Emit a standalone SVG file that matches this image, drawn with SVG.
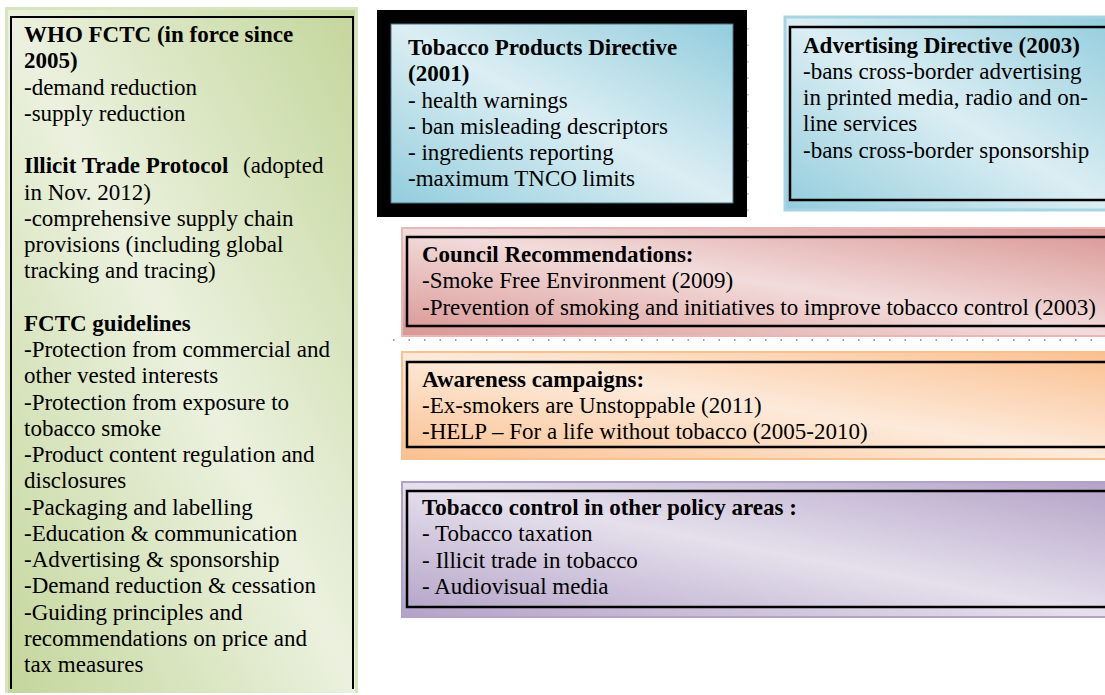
<svg xmlns="http://www.w3.org/2000/svg" width="1105" height="695" viewBox="0 0 1105 695">
<defs>
<linearGradient id="gGreen" x1="1" y1="0" x2="0" y2="1"><stop offset="0" stop-color="#c3d69b"/><stop offset="0.5" stop-color="#ebf1de"/><stop offset="1" stop-color="#c3d69b"/></linearGradient>
<linearGradient id="gBlue" x1="1" y1="0" x2="0" y2="1"><stop offset="0" stop-color="#93cddd"/><stop offset="0.5" stop-color="#dbeef3"/><stop offset="1" stop-color="#93cddd"/></linearGradient>
<linearGradient id="gPink" x1="1" y1="0" x2="0" y2="1"><stop offset="0" stop-color="#d99694"/><stop offset="0.5" stop-color="#f2dcdb"/><stop offset="1" stop-color="#d99694"/></linearGradient>
<linearGradient id="gOrange" x1="1" y1="0" x2="0" y2="1"><stop offset="0" stop-color="#fac090"/><stop offset="0.5" stop-color="#fdeada"/><stop offset="1" stop-color="#fac090"/></linearGradient>
<linearGradient id="gPurple" x1="1" y1="0" x2="0" y2="1"><stop offset="0" stop-color="#b3a2c7"/><stop offset="0.5" stop-color="#e5e0ec"/><stop offset="1" stop-color="#b3a2c7"/></linearGradient>
<style>
text{font-family:"Liberation Serif","Times New Roman",serif;font-size:23px;fill:#000}
.b{font-weight:bold}
.inner{fill:none;stroke:#000;stroke-width:2.5}
</style>
</defs>
<rect width="1105" height="695" fill="#fff"/>
<g id="decor">
<line x1="393" y1="340" x2="1105" y2="340" stroke="#9b6b8a" stroke-width="1.5" stroke-dasharray="1.5 14"/>
<line x1="748" y1="28" x2="748" y2="216" stroke="#999" stroke-width="1" stroke-dasharray="1.5 15"/>
</g>
<g id="connectors"></g>
<g id="who-fctc">
<rect x="5" y="7" width="353" height="686" fill="url(#gGreen)"/>
<path d="M6.5,693 V8.5 H356.5 V693" fill="none" stroke="#d7e4bd" stroke-width="3"/>
<path d="M11,689 V17 H353 V689" fill="none" stroke="#000" stroke-width="2"/>
<text x="24" y="42" class="b">WHO FCTC (in force since</text>
<text x="24" y="68.25" class="b">2005)</text>
<text x="24" y="94.5">-demand reduction</text>
<text x="24" y="120.75">-supply reduction</text>
<text x="24" y="173.25"><tspan class="b">Illicit Trade Protocol</tspan><tspan x="243">(adopted</tspan></text>
<text x="24" y="199.5">in Nov. 2012)</text>
<text x="24" y="225.75">-comprehensive supply chain</text>
<text x="24" y="252">provisions (including global</text>
<text x="24" y="278.25">tracking and tracing)</text>
<text x="24" y="330.75" class="b">FCTC guidelines</text>
<text x="24" y="357">-Protection from commercial and</text>
<text x="24" y="383.25">other vested interests</text>
<text x="24" y="409.5">-Protection from exposure to</text>
<text x="24" y="435.75">tobacco smoke</text>
<text x="24" y="462">-Product content regulation and</text>
<text x="24" y="488.25">disclosures</text>
<text x="24" y="514.5">-Packaging and labelling</text>
<text x="24" y="540.75">-Education &amp; communication</text>
<text x="24" y="567">-Advertising &amp; sponsorship</text>
<text x="24" y="593.25">-Demand reduction &amp; cessation</text>
<text x="24" y="619.5">-Guiding principles and</text>
<text x="24" y="645.75">recommendations on price and</text>
<text x="24" y="672">tax measures</text>
</g>
<g id="tpd">
<rect x="377" y="10" width="370" height="207" fill="#000"/>
<rect x="391" y="24" width="342" height="179" fill="url(#gBlue)" stroke="#4f7380" stroke-width="1"/>
<text x="408" y="55" class="b">Tobacco Products Directive</text>
<text x="408" y="81.25" class="b">(2001)</text>
<text x="408" y="107.5">- health warnings</text>
<text x="408" y="133.75">- ban misleading descriptors</text>
<text x="408" y="160">- ingredients reporting</text>
<text x="408" y="186.25">-maximum TNCO limits</text>
</g>
<g id="advertising">
<rect x="785" y="17" width="330" height="193" fill="url(#gBlue)" stroke="#a5d5e2" stroke-width="3"/>
<rect x="790" y="27" width="330" height="173" class="inner"/>
<text x="803" y="52.5" class="b">Advertising Directive (2003)</text>
<text x="803" y="78.75">-bans cross-border advertising</text>
<text x="803" y="105">in printed media, radio and on-</text>
<text x="803" y="131.25">line services</text>
<text x="803" y="157.5">-bans cross-border sponsorship</text>
</g>
<g id="council">
<rect x="402" y="228" width="710" height="108" fill="url(#gPink)" stroke="#e6b9b8" stroke-width="2"/>
<rect x="407" y="237" width="710" height="89" class="inner"/>
<text x="422" y="262" class="b">Council Recommendations:</text>
<text x="422" y="288.25">-Smoke Free Environment (2009)</text>
<text x="422" y="314.5">-Prevention of smoking and initiatives to improve tobacco control (2003)</text>
</g>
<g id="awareness">
<rect x="402" y="352" width="710" height="107" fill="url(#gOrange)" stroke="#fac090" stroke-width="2"/>
<rect x="407" y="362" width="710" height="85" class="inner"/>
<text x="422" y="386.5" class="b">Awareness campaigns:</text>
<text x="422" y="412.75">-Ex-smokers are Unstoppable (2011)</text>
<text x="422" y="439">-HELP – For a life without tobacco (2005-2010)</text>
</g>
<g id="other-policy">
<rect x="402" y="482" width="710" height="135" fill="url(#gPurple)" stroke="#b3a2c7" stroke-width="2"/>
<rect x="407" y="491" width="710" height="116" class="inner"/>
<text x="422" y="515" class="b">Tobacco control in other policy areas :</text>
<text x="422" y="541.25">- Tobacco taxation</text>
<text x="422" y="567.5">- Illicit trade in tobacco</text>
<text x="422" y="593.75">- Audiovisual media</text>
</g>
</svg>
